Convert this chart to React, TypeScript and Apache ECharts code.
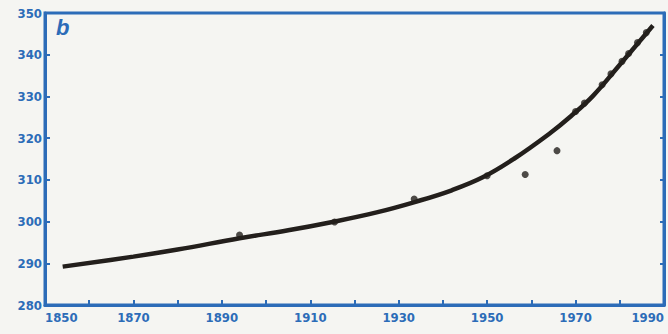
import React, { useEffect, useRef } from "react";
import * as echarts from "echarts";

const curveYears = [1854, 1870, 1880, 1894, 1905, 1915, 1925, 1934, 1942, 1949, 1956, 1964, 1969, 1974, 1980, 1987.5];
const curveValues = [289.2, 291.6, 293.3, 296.0, 297.9, 299.9, 302.2, 304.8, 307.5, 310.6, 315.0, 321.0, 325.3, 330.2, 337.6, 347.0];

const obsYears = [1894, 1915.5, 1933.5, 1950, 1958.6, 1965.8, 1970, 1972, 1976, 1978, 1980.5, 1982, 1984, 1986];
const obsValues = [296.8, 299.9, 305.4, 311.0, 311.3, 317.0, 326.4, 328.4, 332.8, 335.4, 338.4, 340.3, 342.9, 345.3];

const yearTicks = [1850, 1870, 1890, 1910, 1930, 1950, 1970, 1990];
const ppmTicks = [280, 290, 300, 310, 320, 330, 340, 350];

const BLUE = "#2c6cb8";
const INK = "#231f1c";

export default function App() {
  const ref = useRef<HTMLDivElement>(null);
  useEffect(() => {
    document.documentElement.style.overflow = "hidden";
    document.body.style.margin = "0";
    document.body.style.overflow = "hidden";
    if (!ref.current) return;
    const chart = echarts.init(ref.current, null, { renderer: "svg", width: 668, height: 334 });
    const labelStyle = {
      color: BLUE,
      fontFamily: "DejaVu Sans Condensed",
      fontWeight: "bold" as const,
      fontSize: 13,
    };
    chart.setOption({
      animation: false,
      backgroundColor: "#f5f5f2",
      grid: {
        left: 45,
        right: 4,
        top: 13,
        bottom: 29,
        containLabel: false,
        outerBoundsMode: "none",
        show: true,
        borderColor: BLUE,
        borderWidth: 3,
        backgroundColor: "transparent",
      },
      xAxis: [
        {
          type: "value",
          min: 1850,
          max: 1990,
          interval: 10,
          axisLine: { show: true, lineStyle: { color: BLUE, width: 3 } },
          axisTick: { show: true, inside: true, length: 5, lineStyle: { color: BLUE, width: 2 } },
          splitLine: { show: false },
          axisLabel: {
            ...labelStyle,
            margin: 6,
            alignMinLabel: "left",
            alignMaxLabel: "right",
            formatter: (v: number) => (yearTicks.includes(v) ? String(v) : ""),
          },
        },
      ],
      yAxis: [
        {
          type: "value",
          min: 280,
          max: 350,
          interval: 10,
          axisLine: { show: true, lineStyle: { color: BLUE, width: 3 } },
          axisTick: { show: true, inside: true, length: 5, lineStyle: { color: BLUE, width: 2 } },
          splitLine: { show: false },
          axisLabel: {
            ...labelStyle,
            margin: 3,
            formatter: (v: number) => (ppmTicks.includes(v) ? String(v) : ""),
          },
        },
        {
          type: "value",
          position: "right",
          min: 280,
          max: 350,
          interval: 10,
          axisLine: { show: true, lineStyle: { color: BLUE, width: 3 } },
          axisTick: { show: true, inside: true, length: 4, lineStyle: { color: BLUE, width: 2 } },
          splitLine: { show: false },
          axisLabel: { show: false },
        },
      ],
      series: [
        {
          type: "line",
          smooth: 0.4,
          showSymbol: false,
          data: curveYears.map((y, i) => [y, curveValues[i]]),
          lineStyle: { color: INK, width: 4.5 },
          z: 3,
        },
        {
          type: "scatter",
          symbolSize: 7,
          data: obsYears.map((y, i) => [y, obsValues[i]]),
          itemStyle: { color: INK },
          z: 4,
        },
      ],
      graphic: [
        {
          type: "text",
          left: 56,
          top: 16,
          style: {
            text: "b",
            fill: BLUE,
            font: "italic bold 22px 'Liberation Sans'",
          },
        },
      ],
    });
    return () => chart.dispose();
  }, []);
  return (
    <div
      ref={ref}
      style={{ position: "fixed", left: 0, top: 0, width: 668, height: 334, overflow: "hidden" }}
    />
  );
}
